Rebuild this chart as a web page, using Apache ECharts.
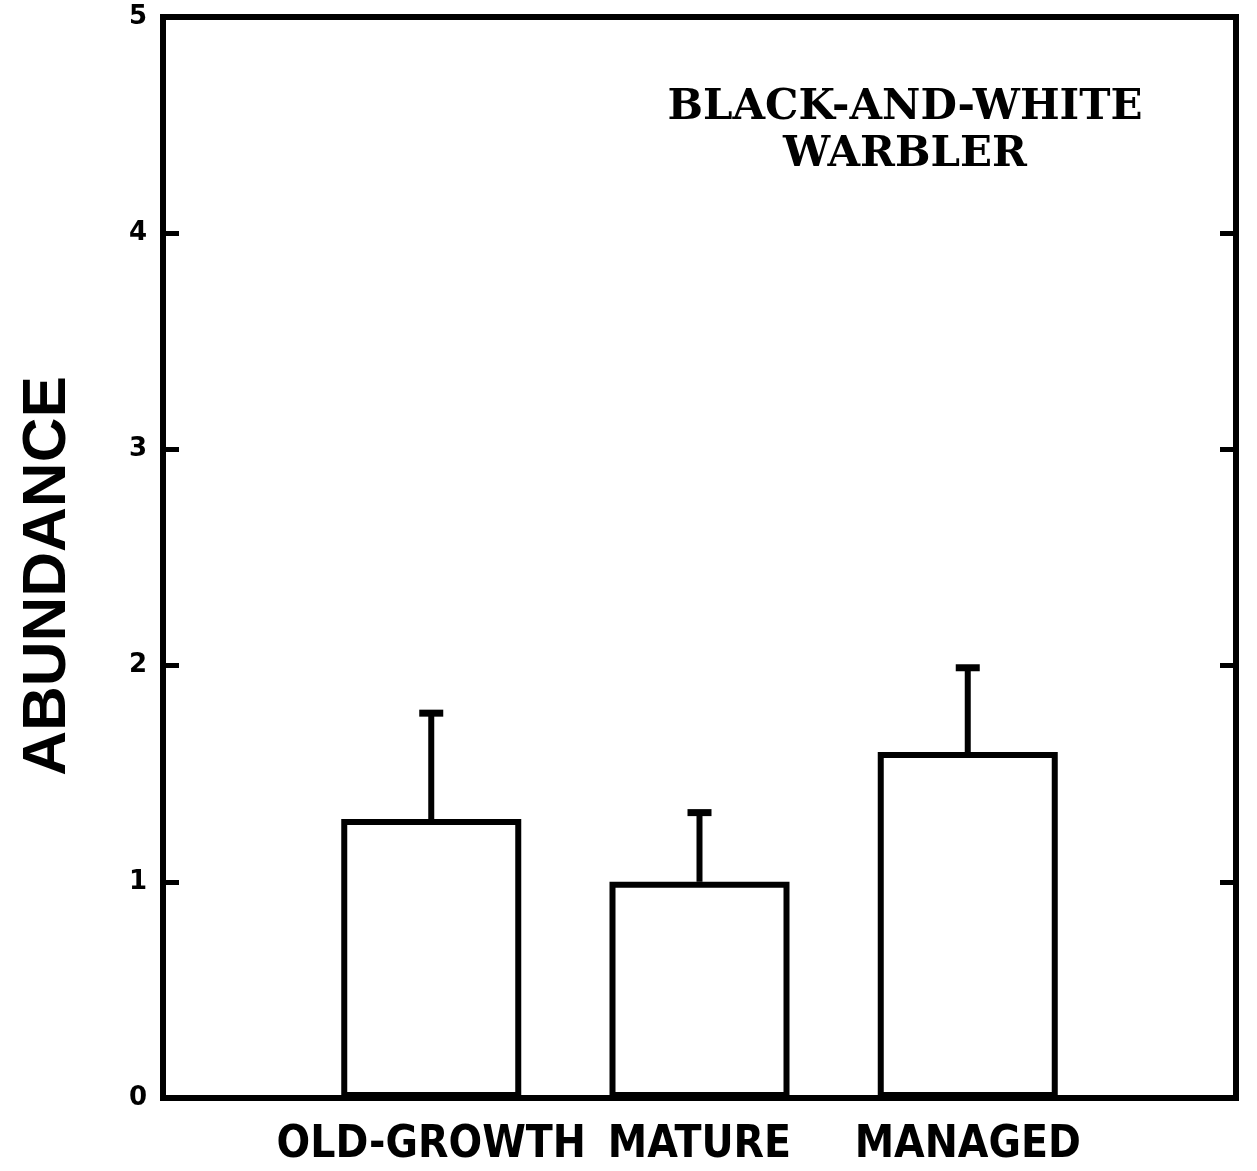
<!DOCTYPE html>
<html>
<head>
<meta charset="utf-8">
<script src="https://cdn.jsdelivr.net/npm/echarts@6/dist/echarts.min.js"></script>
<style>html,body{margin:0;padding:0;background:#fff;}#c{width:1257px;height:1171px;}</style>
</head>
<body>
<div id="c"></div>
<script>
const categories = ['', 'OLD-GROWTH', 'MATURE', 'MANAGED', ''];
const abundance = [null, 1.29, 1.00, 1.60, null];
const errorTop = [null, 1.78, 1.32, 1.99, null];
const yTicks = [0, 1, 2, 3, 4, 5];
const titleLines = ['BLACK-AND-WHITE', 'WARBLER'];
const yName = 'ABUNDANCE';

const errData = [];
categories.forEach((c, i) => { if (errorTop[i] != null) errData.push([i, abundance[i], errorTop[i]]); });

const chart = echarts.init(document.getElementById('c'));
chart.setOption({
  animation: false,
  backgroundColor: '#fff',
  grid: { left: 163, right: 21, top: 17, bottom: 73, show: true, borderColor: '#000', borderWidth: 6, backgroundColor: 'transparent' },
  graphic: [{
    type: 'text', x: 905, y: 132,
    style: { text: titleLines.join('\n'), textAlign: 'center', textVerticalAlign: 'middle', align: 'center', verticalAlign: 'middle', font: 'bold 42px "DejaVu Serif"', lineHeight: 47, fill: '#000' }
  }, {
    type: 'text', x: 48, y: 576, rotation: Math.PI / 2,
    style: { text: yName, textAlign: 'center', textVerticalAlign: 'middle', align: 'center', verticalAlign: 'middle', font: 'bold 62px "Liberation Sans"', fill: '#000' }
  }],
  xAxis: {
    type: 'category', data: categories, boundaryGap: false,
    axisLine: { show: false }, axisTick: { show: false }, splitLine: { show: false },
    axisLabel: { interval: 0, margin: 26, color: '#000', fontFamily: '"Liberation Sans Narrow", "DejaVu Sans Condensed", sans-serif', fontWeight: 'bold', fontSize: 44 }
  },
  yAxis: [{
    type: 'value', min: 0, max: 5, interval: 1, position: 'left',
    axisLine: { show: false }, splitLine: { show: false },
    axisTick: { show: true, inside: true, length: 16, lineStyle: { color: '#000', width: 5 } },
    axisLabel: { margin: 16, color: '#000', fontFamily: '"DejaVu Sans"', fontWeight: 'bold', fontSize: 26, formatter: v => yTicks.includes(v) ? String(v) : '' }
  }, {
    type: 'value', min: 0, max: 5, interval: 1, position: 'right',
    axisLine: { show: false }, splitLine: { show: false },
    axisTick: { show: true, inside: true, length: 16, lineStyle: { color: '#000', width: 5 } },
    axisLabel: { show: false }
  }],
  series: [{
    type: 'bar', data: abundance, barWidth: 180,
    itemStyle: { color: '#fff', borderColor: '#000', borderWidth: 6 }, z: 2
  }, {
    type: 'custom', data: errData, z: 3,
    renderItem: function (params, api) {
      const x = api.value(0);
      const p0 = api.coord([x, api.value(1)]);
      const p1 = api.coord([x, api.value(2)]);
      const cap = 12;
      return {
        type: 'group', children: [
          { type: 'line', shape: { x1: p0[0], y1: p0[1], x2: p1[0], y2: p1[1] }, style: { stroke: '#000', lineWidth: 6 } },
          { type: 'line', shape: { x1: p1[0] - cap, y1: p1[1], x2: p1[0] + cap, y2: p1[1] }, style: { stroke: '#000', lineWidth: 7 } }
        ]
      };
    }
  }]
});
</script>
</body>
</html>
